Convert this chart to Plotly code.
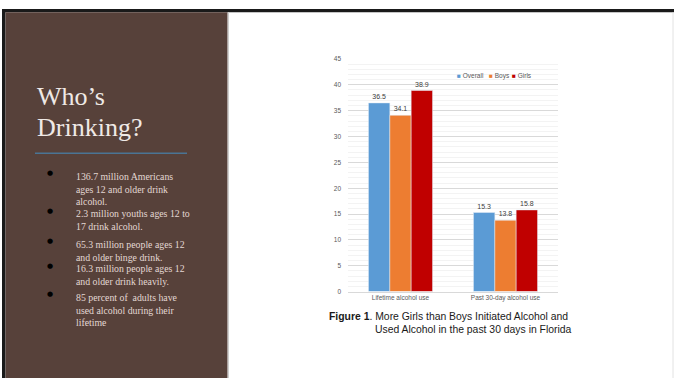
import plotly.graph_objects as go

W, H = 674, 381

# chart data
categories = ["Lifetime alcohol use", "Past 30-day alcohol use"]
series_names = ["Overall", "Boys", "Girls"]
overall = [36.5, 15.3]
boys = [34.1, 13.8]
girls = [38.9, 15.8]
series_colors = ["#5b9bd5", "#ed7d31", "#c00000"]

# slide text
slide_title = ["Who\u2019s", "Drinking?"]
bullets = [
    "136.7 million Americans<br>ages 12 and older drink<br>alcohol.",
    "2.3 million youths ages 12 to<br>17 drink alcohol.",
    "65.3 million people ages 12<br>and older binge drink.",
    "16.3 million people ages 12<br>and older drink heavily.",
    "85 percent of  adults have<br>used alcohol during their<br>lifetime",
]
caption_lines = [
    "<b>Figure 1</b>. More Girls than Boys Initiated Alcohol and",
    "Used Alcohol in the past 30 days in Florida",
]


def px(x):
    return x / W


def py(y):
    return 1 - y / H


fig = go.Figure()
for name, vals, col in zip(series_names, [overall, boys, girls], series_colors):
    fig.add_trace(go.Bar(
        name=name, x=categories, y=vals, marker_color=col,
        text=[f"{v:.1f}" for v in vals], textposition="outside",
        textfont=dict(size=7, color="#404040", family="Liberation Sans"),
        cliponaxis=False, showlegend=False,
    ))

shapes = [
    # slide frame lines
    dict(type="rect", xref="paper", yref="paper", x0=px(2), x1=1, y0=py(8.5), y1=py(5),
         fillcolor="#1a1a1a", line_width=0, layer="below"),
    dict(type="rect", xref="paper", yref="paper", x0=px(2), x1=px(5.5), y0=0, y1=py(5),
         fillcolor="#1a1a1a", line_width=0, layer="below"),
    # brown side panel
    dict(type="rect", xref="paper", yref="paper", x0=px(5.5), x1=px(227.5), y0=0, y1=py(8.5),
         fillcolor="#57413a", line_width=0, layer="below"),
    dict(type="line", xref="paper", yref="paper", x0=px(228.5), x1=px(228.5), y0=0, y1=py(8.5),
         line=dict(color="#cfcfcf", width=1), layer="below"),
    dict(type="line", xref="paper", yref="paper", x0=px(673), x1=px(673), y0=0, y1=py(8.5),
         line=dict(color="#e2e2e2", width=1), layer="below"),
    # title underline
    dict(type="line", xref="paper", yref="paper", x0=px(35), x1=px(187), y0=py(152), y1=py(152),
         line=dict(color="#4a7494", width=1.6)),
]

ann = []
title_y = [94, 126]
for t, yy in zip(slide_title, title_y):
    ann.append(dict(text=t, x=px(35), y=py(yy), xref="paper", yref="paper",
                    xanchor="left", yanchor="middle", showarrow=False,
                    font=dict(family="Liberation Serif", size=26, color="#efe9e6")))

bullet_tops = [168, 206, 237, 262, 291]
for b, yt in zip(bullets, bullet_tops):
    ann.append(dict(text=b, x=px(74), y=py(yt), xref="paper", yref="paper",
                    xanchor="left", yanchor="top", align="left", showarrow=False,
                    font=dict(family="Liberation Serif", size=9.8, color="#e3d8d4")))
    ann.append(dict(text="\u25cf", x=px(50), y=py(yt + 4.5), xref="paper", yref="paper",
                    xanchor="center", yanchor="middle", showarrow=False,
                    font=dict(family="DejaVu Sans", size=7, color="#000000")))

# legend drawn as a compact row of swatches
leg_x = [455, 487, 510]
for name, col, lx in zip(series_names, series_colors, leg_x):
    ann.append(dict(text=f"<span style='color:{col}'>\u25a0</span> {name}",
                    x=px(lx), y=py(73), xref="paper", yref="paper",
                    xanchor="left", yanchor="middle", showarrow=False,
                    font=dict(family="Liberation Sans", size=6.5, color="#595959")))

# figure caption
ann.append(dict(text=caption_lines[0], x=px(327), y=py(318), xref="paper", yref="paper",
                xanchor="left", yanchor="middle", showarrow=False,
                font=dict(family="Liberation Sans", size=10.4, color="#1a1a1a")))
ann.append(dict(text=caption_lines[1], x=px(373), y=py(332), xref="paper", yref="paper",
                xanchor="left", yanchor="middle", showarrow=False,
                font=dict(family="Liberation Sans", size=10.4, color="#1a1a1a")))

fig.update_layout(
    width=W, height=H, margin=dict(l=0, r=0, t=0, b=0),
    paper_bgcolor="#ffffff", plot_bgcolor="#ffffff",
    barmode="group", bargap=0.39, bargroupgap=0,
    shapes=shapes, annotations=ann,
    xaxis=dict(domain=[px(348), px(558)], showline=True, linecolor="#d9d9d9",
               ticks="", tickfont=dict(size=6.5, color="#595959", family="Liberation Sans"),
               fixedrange=True),
    yaxis=dict(domain=[py(293), py(56)], range=[0, 45], dtick=5,
               gridcolor="#d9d9d9", gridwidth=1, zeroline=False,
               minor=dict(dtick=1, showgrid=True, gridcolor="#f3f3f3", gridwidth=1),
               tickfont=dict(size=6.5, color="#595959", family="Liberation Sans"),
               ticklabelstandoff=6),
    font=dict(family="Liberation Sans"),
)

fig.write_html("out.html")
